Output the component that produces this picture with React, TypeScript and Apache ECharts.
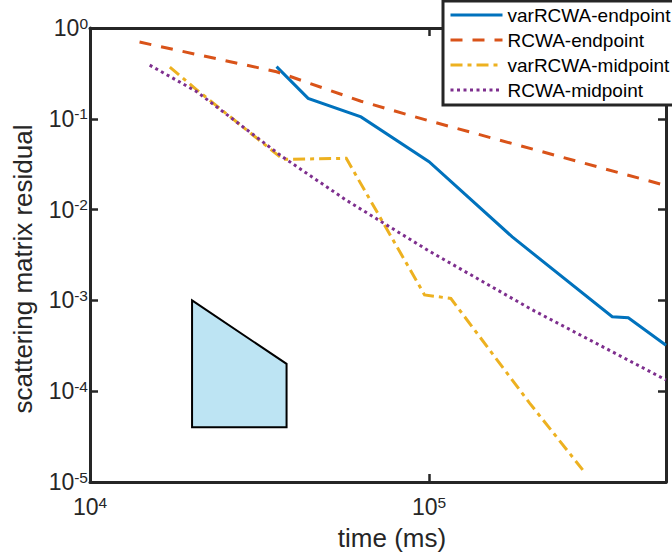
import React, { useEffect, useRef } from 'react';
import * as echarts from 'echarts';

// Series names, in legend order
const seriesNames = ['varRCWA-endpoint', 'RCWA-endpoint', 'varRCWA-midpoint', 'RCWA-midpoint'];

// varRCWA-endpoint: time (ms) vs residual
const varEndTime = [3.55e4, 4.4e4, 6.3e4, 1.0e5, 1.76e5, 3.47e5, 3.87e5, 5.0e5];
const varEndResidual = [0.375, 0.168, 0.105, 0.0337, 5.0e-3, 6.6e-4, 6.45e-4, 3.2e-4];

// RCWA-endpoint
const rcwaEndTime = [1.4e4, 3.55e4, 6.3e4, 1.0e5, 5.0e5];
const rcwaEndResidual = [0.7, 0.33, 0.156, 0.095, 0.0184];

// varRCWA-midpoint
const varMidTime = [1.72e4, 2.06e4, 3.71e4, 5.7e4, 9.7e4, 1.16e5, 1.98e5, 2.84e5];
const varMidResidual = [0.37, 0.21, 0.0358, 0.0367, 1.15e-3, 1.05e-3, 7.4e-5, 1.36e-5];

// RCWA-midpoint
const rcwaMidTime = [1.5e4, 2.06e4, 3.7e4, 5.7e4, 1.0e5, 2.0e5, 5.0e5];
const rcwaMidResidual = [0.39, 0.2, 0.038, 0.0127, 3.5e-3, 8.0e-4, 1.33e-4];

// Slope reference wedge (vertices, clockwise)
const wedgeTime = [2e4, 3.8e4, 3.8e4, 2e4];
const wedgeResidual = [1e-3, 2e-4, 4e-5, 4e-5];

// Axis ranges
const timeRange = [1e4, 5e5];
const residualRange = [1e-5, 1];

const FONT = '"Liberation Sans", Arial, Helvetica, sans-serif';
const INK = '#262626';

const zip = (xs: number[], ys: number[]) => xs.map((x, i) => [x, ys[i]]);

const powerLabel = (v: number) => {
  const e = Math.log10(v);
  if (Math.abs(e - Math.round(e)) > 1e-6) return '';
  return `{b|10}{s|${Math.round(e)}}`;
};

const labelRich = {
  b: { fontFamily: FONT, fontSize: 23, color: INK, lineHeight: 26 },
  s: { fontFamily: FONT, fontSize: 15.5, color: INK, lineHeight: 16, verticalAlign: 'top' as const },
};

const tickStyle = { show: true, inside: true, length: 8, lineStyle: { color: INK, width: 2.5 } };
const lineAxis = { show: true, onZero: false, lineStyle: { color: INK, width: 3 } };

function lineSeries(name: string, xs: number[], ys: number[], color: string, dash: number[] | 'solid') {
  return {
    type: 'line' as const,
    name,
    data: zip(xs, ys),
    xAxisIndex: 0,
    yAxisIndex: 0,
    symbol: 'none',
    showSymbol: false,
    silent: true,
    itemStyle: { color },
    lineStyle: { color, width: 3, type: dash, cap: 'butt' as const, join: 'miter' as const },
  };
}

export default function App() {
  const ref = useRef<HTMLDivElement>(null);

  useEffect(() => {
    if (!ref.current) return;
    const chart = echarts.init(ref.current, null, { renderer: 'svg' });

    const baseX = {
      type: 'log' as const,
      logBase: 10,
      min: timeRange[0],
      max: timeRange[1],
      axisLine: lineAxis,
      axisTick: tickStyle,
      splitLine: { show: false },
      minorTick: { show: false },
      minorSplitLine: { show: false },
    };
    const baseY = {
      type: 'log' as const,
      logBase: 10,
      min: residualRange[0],
      max: residualRange[1],
      axisLine: lineAxis,
      axisTick: tickStyle,
      splitLine: { show: false },
      minorTick: { show: false },
      minorSplitLine: { show: false },
    };

    chart.setOption({
      animation: false,
      backgroundColor: '#ffffff',
      grid: { left: 90, top: 28, right: 6, bottom: 74, containLabel: false, outerBoundsMode: 'none' },
      xAxis: [
        {
          ...baseX,
          position: 'bottom',
          axisLabel: { formatter: powerLabel, margin: 12, rich: labelRich, showMaxLabel: false },
          name: 'time (ms)',
          nameLocation: 'middle',
          nameGap: 43,
          nameTextStyle: { fontFamily: FONT, fontSize: 26, color: INK, padding: [0, 0, 0, 28] },
        },
        { ...baseX, position: 'top', axisLabel: { show: false } },
      ],
      yAxis: [
        {
          ...baseY,
          position: 'left',
          axisLabel: { formatter: powerLabel, margin: 2, rich: labelRich },
          name: 'scattering matrix residual',
          nameLocation: 'middle',
          nameGap: 54,
          nameRotate: 90,
          nameTextStyle: { fontFamily: FONT, fontSize: 26, color: INK, padding: [0, 28, 0, 0] },
        },
        { ...baseY, position: 'right', axisLabel: { show: false } },
      ],
      legend: {
        data: seriesNames,
        orient: 'vertical',
        left: 443,
        top: 1,
        padding: [4, 14, 5, 6],
        itemWidth: 52,
        itemHeight: 14,
        itemGap: 5,
        backgroundColor: '#ffffff',
        borderColor: INK,
        borderWidth: 3,
        borderRadius: 0,
        selectedMode: false,
        lineStyle: { width: 3 },
        itemStyle: { color: 'rgba(0,0,0,0)', borderColor: 'rgba(0,0,0,0)', borderWidth: 0, opacity: 0 },
        textStyle: { fontFamily: FONT, fontSize: 19, color: '#000000', lineHeight: 20 },
      },
      series: [
        lineSeries(seriesNames[0], varEndTime, varEndResidual, '#0072BD', 'solid'),
        lineSeries(seriesNames[1], rcwaEndTime, rcwaEndResidual, '#D95319', [12, 10]),
        lineSeries(seriesNames[2], varMidTime, varMidResidual, '#EDB120', [12, 5, 4, 5]),
        lineSeries(seriesNames[3], rcwaMidTime, rcwaMidResidual, '#7E2F8E', [3, 3.5]),
        {
          type: 'custom',
          name: 'slope wedge',
          xAxisIndex: 0,
          yAxisIndex: 0,
          silent: true,
          data: [[wedgeTime[0], wedgeResidual[0]]],
          renderItem: (_params: any, api: any) => ({
            type: 'polygon',
            shape: { points: wedgeTime.map((t, i) => api.coord([t, wedgeResidual[i]])) },
            style: { fill: '#BDE4F3', stroke: '#000000', lineWidth: 2 },
          }),
        },
      ],
    });

    return () => chart.dispose();
  }, []);

  return (
    <div
      ref={ref}
      style={{ position: 'fixed', left: 0, top: 0, width: 672, height: 556, background: '#ffffff' }}
    />
  );
}
